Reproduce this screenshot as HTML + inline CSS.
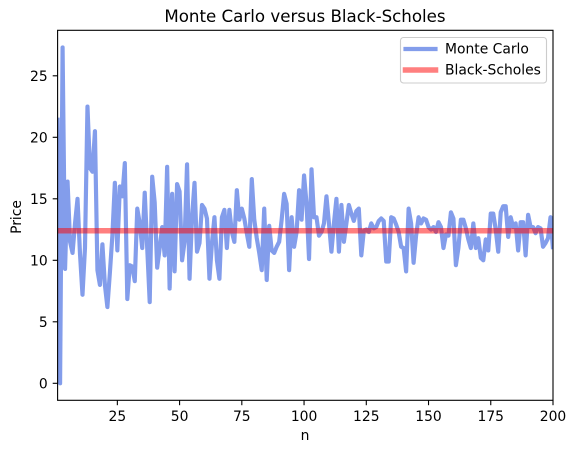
<!DOCTYPE html>
<html>
<head>
<meta charset="utf-8">
<style>
html,body{margin:0;padding:0;background:#fff;}
svg{display:block;font-family:"DejaVu Sans","Liberation Sans",sans-serif;}
</style>
</head>
<body>
<svg id="chart" width="576" height="453" viewBox="0 0 576 453" xmlns="http://www.w3.org/2000/svg">
  <defs>
    <clipPath id="plot-clip"><rect x="57.6" y="30.3" width="495.4" height="370"></rect></clipPath>
  </defs>
  <rect x="0" y="0" width="576" height="453" fill="#fff"></rect>
  <g id="series" clip-path="url(#plot-clip)"></g>
  <g id="ticks"></g>
  <rect x="57.6" y="30.3" width="495.4" height="370" fill="none" stroke="#000" stroke-width="1.1"></rect>
  <text x="305" y="22" font-size="16.67" text-anchor="middle" fill="#000">Monte Carlo versus Black-Scholes</text>
  <text x="305" y="440" font-size="13.89" text-anchor="middle" fill="#000">n</text>
  <text transform="translate(21,217) rotate(-90)" font-size="13.89" text-anchor="middle" fill="#000">Price</text>
  <g>
    <rect x="400.5" y="37.5" width="146" height="45.5" rx="3" ry="3" fill="#fff" fill-opacity="0.8" stroke="#ccc" stroke-width="1.1"></rect>
    <line x1="405.5" y1="49" x2="435.5" y2="49" stroke="#4169e1" stroke-opacity="0.65" stroke-width="4.17" stroke-linecap="square"></line>
    <text x="445" y="53.5" font-size="13.89" fill="#000">Monte Carlo</text>
    <line x1="405.5" y1="70" x2="435.5" y2="70" stroke="#ff0000" stroke-opacity="0.5" stroke-width="5.55" stroke-linecap="square"></line>
    <text x="445" y="74.5" font-size="13.89" fill="#000">Black-Scholes</text>
  </g>
</svg>
<script>
const monteCarlo = [
  21.6,0,27.3,9.3,16.4,11.5,10.6,13,15,10.5,
  7.2,11,22.5,17.5,17.2,20.5,9.2,8,11.3,8,
  6.2,9,12,16.3,10.8,16,15.2,17.9,6.85,9.6,
  9.5,8.3,14.2,13,11,15.5,11,6.6,16.8,14.7,
  9.4,11,12.7,10.4,17.6,7.7,15.4,9.1,16.2,15.6,
  10,11.5,17.8,8.5,13.5,16.3,10.7,11.4,14.5,14.2,
  13.4,8.5,11.4,13.5,10,8.5,13.5,14.1,11,14.1,
  12.3,11.5,15.7,13.3,14.2,13.4,12.2,11.1,16.6,13.3,
  11.8,10.6,9.2,14.2,8.4,12.8,10.8,10.6,11.1,11.5,
  13.3,15.4,14.6,9.2,13.5,11.1,12.3,15.7,13.3,16.9,
  14.6,10.1,17.4,13.5,13.5,12,12.3,13,15.2,13,
  10.7,13,15,10.7,14.5,11.5,13,14.5,13.8,13.2,
  14,14.2,10.4,12.4,12.5,12.3,13,12.6,12.7,13.2,
  13.4,13.2,9.9,9.9,13.5,13.4,12.9,12.3,11.1,11,
  9.1,14.2,13,9.8,12,13.5,13,13.4,13.3,12.7,
  12.5,12.7,12.3,13.1,12.7,11,12.1,12,13.9,13.4,
  9.6,11,13.3,13.3,12.6,11.7,11,13,11,11.8,
  10.2,10,11.7,10.8,13.8,13.8,12.5,10.7,13.9,14.4,
  14.4,11.9,13.5,12.7,13,10.8,13.1,13.1,10.4,13.7,
  12.7,12.7,12.2,12.7,12.6,11.1,11.4,11.8,13.5,10.9
];
const blackScholes = [12.4, 12.4];
const blackScholesRange = [1, 200];
const xTickValues = [25, 50, 75, 100, 125, 150, 175, 200];
const yTickValues = [0, 5, 10, 15, 20, 25];

const NS = 'http://www.w3.org/2000/svg';
const xScale = n => 57.6 + (n - 1) * (553 - 57.6) / 199;
const yScale = v => 383.3 - v * 12.3;

const series = document.getElementById('series');
const ticks = document.getElementById('ticks');

const mcLine = document.createElementNS(NS, 'polyline');


mcLine.setAttribute('points', monteCarlo.map((v, i) => xScale(i + 1).toFixed(2) + ',' + yScale(v).toFixed(2)).join(' '));
mcLine.setAttribute('fill', 'none');
mcLine.setAttribute('stroke', '#4169e1');
mcLine.setAttribute('stroke-opacity', '0.65');
mcLine.setAttribute('stroke-width', '4.17');
mcLine.setAttribute('stroke-linejoin', 'round');
series.appendChild(mcLine);

const bsLine = document.createElementNS(NS, 'polyline');


bsLine.setAttribute('points', blackScholes.map((v, i) => xScale(blackScholesRange[i]).toFixed(2) + ',' + yScale(v).toFixed(2)).join(' '));
bsLine.setAttribute('fill', 'none');
bsLine.setAttribute('stroke', '#ff0000');
bsLine.setAttribute('stroke-opacity', '0.5');
bsLine.setAttribute('stroke-width', '5.55');
series.appendChild(bsLine);

xTickValues.forEach(t => {
  const x = xScale(t);
  const mark = document.createElementNS(NS, 'line');
  
  
  mark.setAttribute('x1', x);
  mark.setAttribute('x2', x);
  mark.setAttribute('y1', 400.3);
  mark.setAttribute('y2', 405.2);
  mark.setAttribute('stroke', '#000');
  mark.setAttribute('stroke-width', '1.1');
  ticks.appendChild(mark);
  const label = document.createElementNS(NS, 'text');
  
  
  label.setAttribute('x', x);
  label.setAttribute('y', 421);
  label.setAttribute('font-size', '13.89');
  label.setAttribute('text-anchor', 'middle');
  label.setAttribute('fill', '#000');
  label.textContent = t;
  ticks.appendChild(label);
});

yTickValues.forEach(t => {
  const y = yScale(t);
  const mark = document.createElementNS(NS, 'line');
  
  
  mark.setAttribute('x1', 52.7);
  mark.setAttribute('x2', 57.6);
  mark.setAttribute('y1', y);
  mark.setAttribute('y2', y);
  mark.setAttribute('stroke', '#000');
  mark.setAttribute('stroke-width', '1.1');
  ticks.appendChild(mark);
  const label = document.createElementNS(NS, 'text');
  
  
  label.setAttribute('x', 47.7);
  label.setAttribute('y', y + 5.3);
  label.setAttribute('font-size', '13.89');
  label.setAttribute('text-anchor', 'end');
  label.setAttribute('fill', '#000');
  label.textContent = t;
  ticks.appendChild(label);
});
</script>
</body>
</html>
